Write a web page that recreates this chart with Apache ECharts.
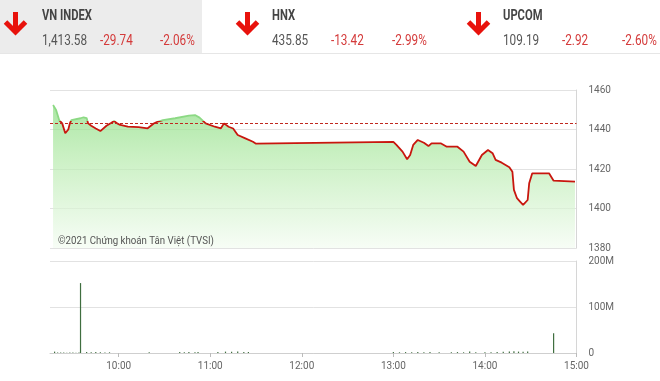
<!DOCTYPE html>
<html><head><meta charset="utf-8">
<script src="https://cdn.jsdelivr.net/npm/echarts@6/dist/echarts.min.js"></script>
<style>html,body{margin:0;padding:0;background:#fff}#c{width:660px;height:381px}</style>
</head><body><div id="c"></div>
<script>
// ---- data ----
const indexNames = ['VN INDEX', 'HNX', 'UPCOM'];
const indexLast = ['1,413.58', '435.85', '109.19'];
const indexChange = ['-29.74', '-13.42', '-2.92'];
const indexPct = ['-2.06%', '-2.99%', '-2.60%'];
const refValue = 1443.32;

const priceTimes = ['09:17','09:19','09:21','09:23','09:25','09:27','09:28','09:29','09:35','09:37','09:39','09:40','09:42','09:45','09:48','09:52','09:55','09:57','09:59','10:01','10:06','10:13','10:19','10:23','10:25','10:29','10:37','10:46','10:50','10:53','10:57','11:03','11:07','11:09','11:12','11:15','11:18','11:23','11:28','11:30',
 '13:00','13:02','13:06','13:09','13:11','13:13','13:16','13:20','13:23','13:25','13:31','13:35','13:42','13:46','13:50','13:54','13:58','14:02','14:05','14:07','14:11','14:16','14:18','14:19','14:21','14:23','14:25','14:28','14:29','14:31','14:42','14:45','14:59'];
const priceValues = [1452.4,1449.9,1444.8,1443.1,1438.1,1440.0,1443.1,1444.8,1445.7,1446.2,1445.8,1443.1,1441.9,1440.5,1439.2,1441.9,1443.3,1444.3,1443.1,1442.3,1441.5,1441.2,1440.6,1443.0,1443.8,1444.8,1445.7,1447.0,1447.3,1446.0,1443.1,1441.4,1440.6,1443.1,1441.4,1440.5,1437.2,1435.5,1433.8,1432.8,
 1433.7,1432.2,1428.8,1424.9,1427.1,1432.2,1434.7,1433.3,1431.6,1433.0,1433.0,1431.3,1431.3,1428.8,1423.7,1421.5,1427.1,1429.6,1428.0,1424.6,1423.2,1420.9,1418.6,1409.4,1405.2,1403.5,1401.8,1404.3,1412.8,1417.8,1417.8,1414.1,1413.58];

const volTimes = ['09:18','09:20','09:22','09:24','09:26','09:28','09:30','09:32','09:34','09:35','09:39','09:42','09:45','09:48','09:51','09:54','10:20','10:40','10:43','10:46','10:50','10:52','11:05','11:10','11:14','11:18','11:22','11:25',
 '13:00','13:04','13:08','13:12','13:16','13:20','13:24','13:30','13:38','13:42','13:46','13:50','13:54','14:00','14:04','14:08','14:12','14:16','14:19','14:22','14:25','14:28','14:45'];
const volValues = [3,1,1.2,1,0.8,1,1,0.8,1,152,2,1.5,2,1.5,1,1.5,1.5,2,1.5,2,1.5,2,2,3,2.5,3,2,2,
 2,1.5,2,1.5,2,1.5,2,1.5,1.5,2,1.5,3,1.5,1.5,1.5,2,2.5,3.5,4,3,2.5,3,43];

const xTickLabels = ['10:00','11:00','12:00','13:00','14:00','15:00'];
const xStart = '09:15', xEnd = '15:00';
const priceTicks = [1380, 1460, 20];
const volTicks = [0, 200, 100];
const copyright = '©2021 Chứng khoán Tân Việt (TVSI)';

// ---- helpers ----
const toMin = s => (+s.slice(0,2))*60 + (+s.slice(3));
const fmtMin = m => String(Math.floor(m/60)).padStart(2,'0') + ':' + String(m%60).padStart(2,'0');
const FONT = 'Roboto, sans-serif';
const red = '#d43a3a';

const priceData = priceTimes.map((t,i)=>[toMin(t), priceValues[i]]);
const volData = volTimes.map((t,i)=>[toMin(t), volValues[i]*1e6]);

// line colour split at the reference level (gradient relative to the line's own extent)
const pMax = Math.max(...priceValues), pMin = Math.min(...priceValues);
const cut = (pMax - refValue) / (pMax - pMin);
const lineGreen = '#8cd984', lineRed = '#c8160e';
const lineColor = new echarts.graphic.LinearGradient(0,0,0,1,[
  {offset:0,color:lineGreen},{offset:cut,color:lineGreen},
  {offset:cut,color:lineRed},{offset:1,color:lineRed}]);

// header graphics (condensed look via horizontal scale)
const SX = 0.84;
const txt = (x, y, s, font, fill, sx) => ({type:'text', x:x, y:y, scaleX:sx||SX, z:100,
  style:{text:s, font:font, fill:fill, verticalAlign:'middle', x:0, y:0}, silent:true});
const graphics = [
  {type:'rect', shape:{x:0,y:0,width:202,height:53}, style:{fill:'#ececec'}, silent:true},
  {type:'rect', shape:{x:0,y:53,width:660,height:1}, style:{fill:'#e6e6e6'}, silent:true}
];
const cellX = [0, 232, 464];
indexNames.forEach((n,i)=>{
  const ax = cellX[i] + 15.5 - (i===2?1:0);
  graphics.push({type:'polyline', shape:{points:[[ax-10,22],[ax,32],[ax+10,22]]}, style:{stroke:'#e8120c', lineWidth:5, fill:null, lineJoin:'miter'}, silent:true});
  graphics.push({type:'line', shape:{x1:ax,y1:12,x2:ax,y2:31}, style:{stroke:'#e8120c', lineWidth:5}, silent:true});
  const tx = [42, 272, 503][i];
  graphics.push(txt(tx, 16, n, 'bold 14px '+FONT, '#444', 0.8));
  graphics.push(txt(tx, 41, indexLast[i], '14px '+FONT, '#555'));
  graphics.push(txt([100,331,562][i], 41, indexChange[i], '14px '+FONT, red));
  graphics.push(txt([160,392,622][i], 41, indexPct[i], '14px '+FONT, red));
});
graphics.push(txt(58, 241, copyright, '11px '+FONT, '#555', 0.88));

const xBase = {type:'value', min:toMin(xStart), max:toMin(xEnd), splitLine:{show:false}};
const axisFont = {color:'#666', fontSize:10, fontFamily:FONT};

const chart = echarts.init(document.getElementById('c'), null, {renderer:'canvas'});
chart.setOption({
  animation:false,
  backgroundColor:'#fff',
  graphic: graphics,
  grid:[
    {left:50, top:90, width:526.5, height:158},
    {left:50, top:261, width:526.5, height:92}
  ],
  xAxis:[
    Object.assign({}, xBase, {gridIndex:0, axisLine:{show:false}, axisTick:{show:false}, axisLabel:{show:false}}),
    Object.assign({}, xBase, {gridIndex:1,
      axisLine:{show:true, lineStyle:{color:'#cfcfcf'}},
      axisTick:{show:true, length:4, lineStyle:{color:'#bbb'}, customValues:xTickLabels.map(toMin)},
      axisLabel:Object.assign({show:true, customValues:xTickLabels.map(toMin), formatter:v=>fmtMin(v), margin:8}, axisFont)
    })
  ],
  yAxis:[
    {type:'value', gridIndex:0, position:'right', min:priceTicks[0], max:priceTicks[1], interval:priceTicks[2],
     axisLine:{show:true, lineStyle:{color:'#d6d6d6'}}, axisTick:{show:false},
     splitLine:{show:true, lineStyle:{color:'#e2e2e2'}},
     axisLabel:Object.assign({margin:12, formatter:v=>String(v)}, axisFont)},
    {type:'value', gridIndex:1, position:'right', min:volTicks[0]*1e6, max:volTicks[1]*1e6, interval:volTicks[2]*1e6,
     axisLine:{show:true, lineStyle:{color:'#d6d6d6'}}, axisTick:{show:false},
     splitLine:{show:true, lineStyle:{color:'#e2e2e2'}},
     axisLabel:Object.assign({margin:12, formatter:v=> v===0?'0':(v/1e6)+'M'}, axisFont)}
  ],
  series:[
    {type:'line', xAxisIndex:0, yAxisIndex:0, data:priceData, symbol:'none', showSymbol:false,
     lineStyle:{width:1.8, color:lineColor},
     areaStyle:{origin:'start', color:new echarts.graphic.LinearGradient(0,0,0,1,[{offset:0,color:'#88dc7e'},{offset:0.35,color:'#b3eaa9'},{offset:1,color:'#f4fcf2'}])},
     markLine:{silent:true, symbol:'none', label:{show:false}, animation:false,
       lineStyle:{color:'#c0281f', type:[3,2], width:1}, data:[{yAxis:refValue}]}
    },
    {type:'bar', xAxisIndex:1, yAxisIndex:1, data:volData, barWidth:1.2,
     itemStyle:{color:'#3f6e3f'}}
  ]
});
</script></body></html>
